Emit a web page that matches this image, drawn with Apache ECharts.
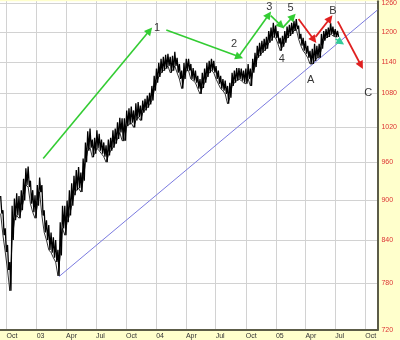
<!DOCTYPE html>
<html><head><meta charset="utf-8">
<script src="https://cdn.jsdelivr.net/npm/echarts@6/dist/echarts.min.js"></script>
<style>html,body{margin:0;padding:0;background:#ffffcc;}#c{width:400px;height:340px;}</style>
</head><body><div id="c"></div>
<script>
// ---- data ----
const weekStart = [2002, 8, 13];           // first weekly bar (Fri 13 Sep 2002)
const weeklyHigh = [906,884,857,833,809,891,902,910,906,915,933,950,953,930,915,907,923,935,923,884,
  869,862,851,844,840,826,866,891,891,899,915,926,938,947,952,943,966,993,1012,1017,
  998,1001,1014,1008,998,993,988,998,1001,1014,1017,1028,1036,1035,1035,1049,1053,1056,1049,1062,
  1064,1058,1067,1070,1076,1081,1094,1113,1127,1138,1146,1150,1154,1156,1150,1152,1160,1148,1136,1123,
  1138,1146,1146,1136,1128,1123,1113,1107,1119,1127,1138,1142,1146,1142,1132,1123,1113,1107,1104,1094,
  1100,1119,1123,1128,1128,1127,1123,1127,1136,1127,1146,1158,1172,1178,1182,1186,1190,1202,1209,1219,
  1213,1202,1188,1192,1202,1211,1215,1219,1223,1227,1213,1196,1188,1182,1172,1162,1166,1176,1172,1176,
  1196,1202,1206,1209,1219,1211,1206,1202];
const weeklyLow = [879,847,823,798,770,840,869,876,872,884,899,923,920,894,881,872,891,912,876,851,
  840,826,822,815,809,790,818,857,847,866,876,891,907,915,918,912,930,960,979,984,
  968,974,983,979,974,969,960,971,979,984,991,999,1010,996,996,1021,1024,1027,1019,1031,
  1037,1031,1045,1049,1054,1060,1067,1085,1100,1111,1119,1123,1127,1132,1119,1123,1132,1119,1107,1089,
  1107,1123,1123,1107,1104,1100,1089,1079,1090,1100,1111,1119,1123,1119,1107,1098,1089,1085,1079,1061,
  1072,1094,1100,1104,1107,1104,1100,1098,1107,1094,1119,1130,1148,1152,1158,1162,1166,1178,1182,1190,
  1188,1176,1162,1170,1178,1188,1192,1196,1202,1206,1186,1172,1162,1156,1148,1136,1136,1142,1148,1148,
  1166,1182,1188,1190,1196,1192,1190,1190];
const xRange = ['2002-09-11', '2005-11-07'];
const xTickDates = ['2002-10-01','2003-01-01','2003-04-01','2003-07-01','2003-10-01','2004-01-01','2004-04-01',
  '2004-07-01','2004-10-01','2005-01-01','2005-04-01','2005-07-01','2005-10-01'];
const xTickLabels = ['Oct','03','Apr','Jul','Oct','04','Apr','Jul','Oct','05','Apr','Jul','Oct'];
const yTicks = [720,780,840,900,960,1020,1080,1140,1200,1260];
const yRange = [720, 1265];
const trendLine = [['2003-03-10', 789], ['2005-11-07', 1246]];
const greenArrows = [
  [['2003-01-21', 966], ['2003-12-12', 1203]],
  [['2004-02-01', 1204], ['2004-09-11', 1150]],
  [['2004-09-12', 1153], ['2004-12-10', 1236]],
  [['2004-12-16', 1234], ['2005-01-17', 1213]],
  [['2005-01-22', 1209], ['2005-02-22', 1232]]
];
const redArrows = [
  [['2005-03-11', 1227], ['2005-04-27', 1184]],
  [['2005-05-02', 1190], ['2005-06-15', 1228]],
  [['2005-07-09', 1222], ['2005-09-18', 1133]]
];
const tealArrows = [
  [['2005-07-02', 1186], ['2005-07-18', 1179]]
];
const waveLabels = [
  ['1', '2004-01-04', 1208], ['2', '2004-08-26', 1176], ['3', '2004-12-12', 1252],
  ['4', '2005-01-19', 1146], ['5', '2005-02-15', 1250], ['A', '2005-04-17', 1106],
  ['B', '2005-06-24', 1243], ['C', '2005-10-10', 1080]
];

// ---- build ----
const DAY = 86400000;
const T = s => { const p = s.split('-').map(Number); return Date.UTC(p[0], p[1] - 1, p[2]); };
const L = v => Math.log10(v);
const t0 = Date.UTC(weekStart[0], weekStart[1], weekStart[2]);
const weekTimes = weeklyHigh.map((h, i) => t0 + i * 7 * DAY);
const priceLine = [];
weeklyHigh.forEach((h, i) => {
  priceLine.push([weekTimes[i], L(h)]);
  priceLine.push([weekTimes[i] + 3.5 * DAY, L(weeklyLow[i])]);
});
const bandLow = weeklyLow.map((v, i) => [weekTimes[i], L(v)]);
const bandSpan = weeklyHigh.map((v, i) => [weekTimes[i], L(v) - L(weeklyLow[i])]);
const xTickTimes = xTickDates.map(T);
const yTickVals = yTicks.map(L);
const arrowData = arr => arr.map(seg => [{ coord: [T(seg[0][0]), L(seg[0][1])] }, { coord: [T(seg[1][0]), L(seg[1][1])] }]);
const arrowSeries = (arr, color, width) => ({
  type: 'line', data: [], silent: true,
  markLine: {
    silent: true, animation: false, symbol: ['none', 'triangle'], symbolSize: 8,
    label: { show: false }, emphasis: { disabled: true },
    lineStyle: { color: color, width: width, type: 'solid' },
    data: arrowData(arr)
  }
});

const chart = echarts.init(document.getElementById('c'), null, { renderer: 'canvas' });
chart.setOption({
  backgroundColor: '#ffffcc',
  animation: false,
  grid: { left: 0, right: 21, top: 0, bottom: 9, show: true, backgroundColor: '#ffffff', borderWidth: 0 },
  xAxis: {
    type: 'value', min: T(xRange[0]), max: T(xRange[1]),
    axisLine: { show: true, lineStyle: { color: '#5c5c48', width: 2 } },
    axisTick: { show: false, customValues: xTickTimes },
    axisLabel: {
      customValues: xTickTimes, fontSize: 7, color: '#333333', align: 'left', margin: 3,
      fontFamily: 'Liberation Sans',
      formatter: v => { const i = xTickTimes.findIndex(t => Math.abs(t - v) < 2 * DAY); return i >= 0 ? xTickLabels[i] : ''; }
    },
    splitLine: { show: true, lineStyle: { color: '#d2d2d2', width: 1 } }
  },
  yAxis: {
    type: 'value', position: 'right', min: L(yRange[0]), max: L(yRange[1]),
    axisLine: { show: true, lineStyle: { color: '#5c5c48', width: 2 } },
    axisTick: { show: false, customValues: yTickVals },
    axisLabel: {
      customValues: yTickVals, fontSize: 7, color: '#dd3333', margin: 4, fontFamily: 'Liberation Sans',
      formatter: v => String(Math.round(Math.pow(10, v)))
    },
    splitLine: { show: true, lineStyle: { color: '#d2d2d2', width: 1 } }
  },
  series: [
    {
      type: 'line', data: trendLine.map(p => [T(p[0]), L(p[1])]), showSymbol: false, silent: true,
      lineStyle: { color: '#7b7be0', width: 1 }
    },
    {
      type: 'line', data: bandLow, stack: 'band', showSymbol: false, silent: true,
      lineStyle: { color: '#000', width: 0.8 }
    },
    {
      type: 'line', data: bandSpan, stack: 'band', showSymbol: false, silent: true,
      lineStyle: { color: '#000', width: 0.8 }, areaStyle: { color: '#000', opacity: 0.85 }
    },
    {
      type: 'line', data: priceLine, showSymbol: false, silent: true,
      lineStyle: { color: '#000000', width: 1.3 }
    },
    arrowSeries(greenArrows, '#33cc33', 1.6),
    arrowSeries(redArrows, '#e02020', 1.8),
    arrowSeries(tealArrows, '#33cc99', 1.6),
    {
      type: 'scatter', symbolSize: 0, silent: true,
      data: waveLabels.map(w => [T(w[1]), L(w[2]), w[0]]),
      label: { show: true, position: 'inside', formatter: p => p.data[2], fontSize: 11, color: '#000', fontFamily: 'Liberation Sans' }
    }
  ]
});
</script></body></html>
